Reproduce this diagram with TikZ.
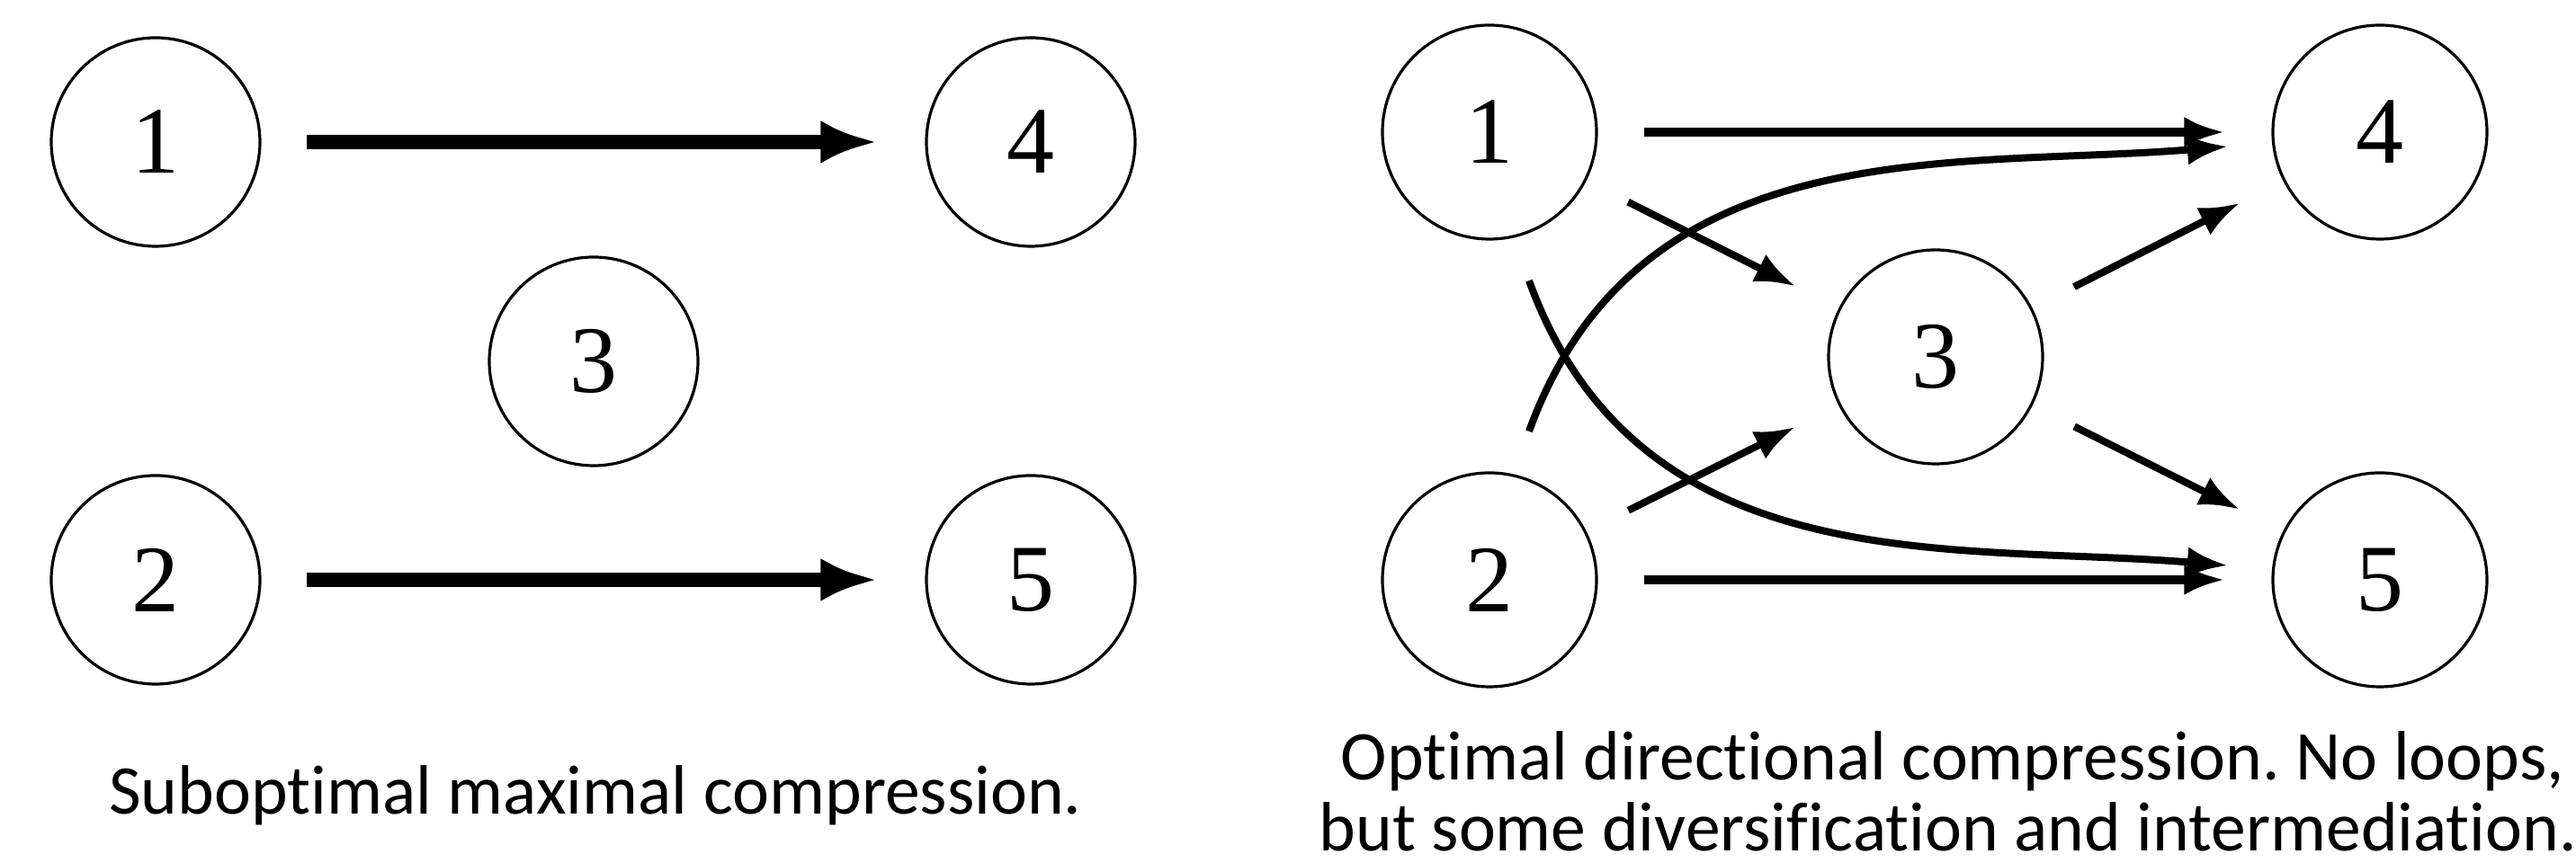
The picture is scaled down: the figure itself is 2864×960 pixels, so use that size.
\documentclass[tikz,border=0pt]{standalone}
\usepackage{fontspec}
\setmainfont{Liberation Serif}
\newfontfamily\capfont[Ligatures=NoCommon]{Carlito}
\usetikzlibrary{arrows.meta,calc}
\frenchspacing
\begin{document}
\begin{tikzpicture}[x=0.25pt,y=0.25pt,
  circL/.style={circle,draw,line width=0.8pt,minimum size=58pt,inner sep=0pt,font=\fontsize{26.5}{30}\selectfont},
  circR/.style={circle,draw,line width=0.8pt,minimum size=59.5pt,inner sep=0pt,font=\fontsize{26.5}{30}\selectfont},
  bigarrow/.style={line width=4pt,-{Latex[length=15.75pt,width=12pt]},shorten <=12.5pt,shorten >=13.25pt},
  straightarrow/.style={line width=2.3pt,-{Latex[length=11.25pt,width=8.5pt]},shorten <=12.75pt,shorten >=13pt},
  diagarrow/.style={line width=2pt,-{Latex[length=11.25pt,width=8.5pt]},shorten <=13pt,shorten >=13.5pt},
  curvearrow/.style={line width=2pt,-{Latex[length=11.25pt,width=8.5pt]}},
  capt/.style={font=\capfont\fontsize{19.4}{23}\selectfont,anchor=base,inner sep=0pt}
]
\useasboundingbox (0,0) rectangle (2864,960);

% left diagram
\node[circL] (a1) at (173,802) {1};
\node[circL] (a4) at (1146,802) {4};
\node[circL] (a3) at (660,558) {3};
\node[circL] (a2) at (173,315) {2};
\node[circL] (a5) at (1146,315) {5};
\draw[bigarrow] (a1) -- (a4);
\draw[bigarrow] (a2) -- (a5);
\node[capt] (capL) at (662,54) {Suboptimal maximal compression.};

% right diagram
\node[circR] (b1) at (1656,813) {1};
\node[circR] (b4) at (2646,813) {4};
\node[circR] (b3) at (2152,563) {3};
\node[circR] (b2) at (1656,315) {2};
\node[circR] (b5) at (2646,315) {5};
\draw[straightarrow] (b1) -- (b4);
\draw[straightarrow] (b2) -- (b5);
\draw[diagarrow] (b1) -- (b3);
\draw[diagarrow] (b2) -- (b3);
\draw[diagarrow] (b3) -- (b4);
\draw[diagarrow] (b3) -- (b5);
\draw[curvearrow] ($(b2)+(75.1:171)$) .. controls +(70:360) and +(184.7:304) .. ($(b4)+(185.4:170)$);
\draw[curvearrow] ($(b1)+(-75.1:171)$) .. controls +(-70:360) and +(175.3:304) .. ($(b5)+(174.6:170)$);
\node[capt] (capR1) at (2171,92) {Optimal directional compression. No loops,};
\node[capt,text depth=0pt] (capR2) at (2166,13) {but some diversification and intermediation.};
\end{tikzpicture}
\end{document}
